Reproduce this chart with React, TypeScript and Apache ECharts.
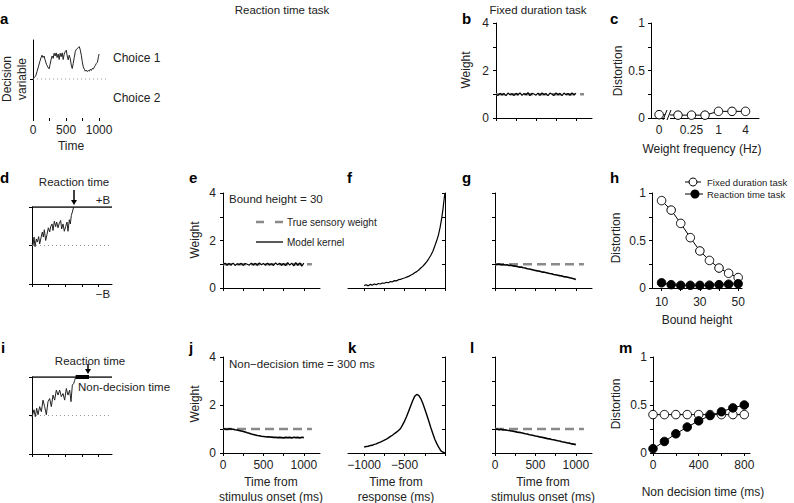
import React, { useEffect, useRef } from 'react';
import * as echarts from 'echarts';

const FONT = '"Liberation Sans", Arial, Helvetica, sans-serif';

// ---- panel a: example decision variable trace
const aTime = [0,20,41,61,81,102,122,137,152,168,183,203,223,244,259,274,289,305,320,335,350,365,381,396,411,426,442,457,472,487,503,518,533,548,563,579,594,609,624,640,655,670,685,701,716,731,746,761,777,792,807,822,838,853,868,883,898,914,929,944,959,975,990,1000];
const aValue = [0,0.04,0.08,0.19,0.31,0.44,0.55,0.61,0.55,0.59,0.49,0.38,0.31,0.26,0.38,0.50,0.59,0.53,0.66,0.59,0.67,0.55,0.64,0.50,0.66,0.57,0.67,0.50,0.64,0.70,0.74,0.59,0.49,0.61,0.53,0.36,0.27,0.40,0.55,0.70,0.76,0.78,0.80,0.83,0.74,0.61,0.44,0.31,0.25,0.20,0.23,0.19,0.22,0.20,0.25,0.22,0.27,0.26,0.31,0.35,0.40,0.43,0.57,0.64];

// ---- panel d: trace up to bound
const dTime = [0,15,30,45,65,80,100,115,135,155,170,185,205,225,245,265,280,300,315,335,355,370,390,410,430,445,465,485,505,525,540,560,575,590,605,625];
const dValue = [0.05,0.00,0.22,-0.03,0.17,0.09,0.23,0.04,0.20,0.35,0.22,0.41,0.13,0.29,0.46,0.35,0.49,0.56,0.39,0.63,0.49,0.61,0.46,0.58,0.65,0.43,0.56,0.37,0.49,0.61,0.37,0.67,0.56,0.78,0.87,1.00];

// ---- panel i: trace up to bound + non-decision time
const iTime = [0,30,50,70,90,115,140,165,190,215,240,265,290,315,340,365,390,415,440,465,490,515,540,565,585,605,625,640,655];
const iValue = [-0.04,0.15,-0.03,0.19,0.02,0.23,0.10,0.40,0.23,0.02,0.36,0.44,0.23,0.53,0.40,0.66,0.53,0.66,0.49,0.57,0.40,0.70,0.53,0.66,0.36,0.79,0.83,0.91,1.00];
const iNonDecision = [655, 855];

// ---- kernels (time from stimulus onset)
const kernelTime = [0,25,50,75,100,125,150,175,200,225,250,275,300,325,350,375,400,425,450,475,500,525,550,575,600,625,650,675,700,725,750,775,800,825,850,875,900,925,950,975,1000];
const bWeight = [1.00,0.95,1.04,0.97,1.03,0.94,1.05,0.98,1.02,0.95,1.04,0.97,1.06,0.95,1.03,0.98,1.07,0.94,1.04,1.01,0.96,1.05,0.95,1.06,0.98,1.03,0.94,1.05,1.00,0.95,1.06,0.97,1.04,0.94,1.05,0.98,1.03,0.95,1.06,0.97,1.04];
const eWeight = [0.99,1.04,0.96,1.03,0.97,1.05,0.95,1.02,0.98,1.04,0.95,1.03,1.00,0.96,1.05,0.97,1.04,0.95,1.06,0.98,1.03,0.96,1.05,0.97,1.02,0.95,1.06,0.98,1.04,0.96,1.03,0.94,1.07,0.96,1.05,0.93,1.07,0.95,1.06,0.92,1.05];
const gWeight = [1.00,0.99,1.01,0.98,0.99,0.97,0.98,0.95,0.96,0.93,0.92,0.91,0.88,0.88,0.85,0.84,0.81,0.80,0.78,0.76,0.74,0.72,0.71,0.68,0.67,0.65,0.63,0.61,0.60,0.57,0.56,0.54,0.52,0.51,0.48,0.47,0.45,0.43,0.41,0.39,0.36];
const jWeight = [1.02,1.00,0.98,1.01,1.00,0.99,0.97,0.96,0.94,0.92,0.90,0.87,0.84,0.82,0.79,0.77,0.75,0.73,0.72,0.70,0.69,0.68,0.67,0.67,0.66,0.65,0.65,0.64,0.65,0.64,0.63,0.65,0.64,0.65,0.63,0.66,0.64,0.65,0.63,0.66,0.64];
const lWeight = [0.98,1.00,0.97,0.99,0.96,0.97,0.95,0.94,0.92,0.91,0.89,0.87,0.86,0.84,0.82,0.80,0.79,0.76,0.75,0.73,0.71,0.70,0.67,0.66,0.64,0.62,0.60,0.59,0.56,0.55,0.53,0.51,0.50,0.47,0.46,0.44,0.42,0.41,0.38,0.37,0.35];
const trueWeightSpan = [0, 1100];
const trueWeight = 1;

// ---- kernels (time from response)
const fTime = [-1000,-975,-950,-925,-900,-875,-850,-825,-800,-775,-750,-725,-700,-675,-650,-625,-600,-575,-550,-525,-500,-475,-450,-425,-400,-375,-350,-325,-300,-275,-250,-225,-200,-175,-150,-125,-100,-80,-60,-40,-25,-15,-5,0];
const fWeight = [0.10,0.14,0.09,0.15,0.12,0.17,0.14,0.19,0.17,0.21,0.20,0.24,0.22,0.27,0.26,0.31,0.30,0.35,0.36,0.40,0.42,0.46,0.49,0.54,0.58,0.64,0.69,0.76,0.84,0.91,1.01,1.11,1.24,1.38,1.55,1.78,2.02,2.25,2.56,2.95,3.32,3.62,3.90,4.00];
const kTime = [-1000,-975,-950,-925,-900,-875,-850,-825,-800,-775,-750,-725,-700,-675,-650,-625,-600,-575,-550,-525,-500,-475,-450,-425,-400,-375,-350,-325,-300,-275,-250,-225,-200,-175,-150,-125,-100,-75,-50,-25,0];
const kWeight = [0.25,0.27,0.28,0.31,0.32,0.36,0.38,0.42,0.45,0.49,0.54,0.58,0.63,0.69,0.74,0.81,0.87,0.94,1.02,1.17,1.33,1.52,1.74,1.96,2.18,2.36,2.44,2.40,2.27,2.07,1.83,1.58,1.32,1.05,0.80,0.56,0.38,0.22,0.09,0.03,0.00];

// ---- panel c: distortion vs weight frequency
const cFrequency = [0, 0.125, 0.25, 0.5, 1, 2, 4];
const cDistortion = [0.035, 0.03, 0.03, 0.03, 0.07, 0.07, 0.07];
const cTickFreq = [0, 0.25, 1, 4];
const cTickLabels = ['0', '0.25', '1', '4'];

// ---- panel h: distortion vs bound height
const hBound = [10, 15, 20, 25, 30, 35, 40, 45, 50];
const hFixed = [0.92, 0.82, 0.68, 0.53, 0.39, 0.29, 0.21, 0.155, 0.11];
const hReaction = [0.055, 0.035, 0.028, 0.028, 0.028, 0.03, 0.035, 0.04, 0.045];

// ---- panel m: distortion vs non decision time
const mNonDecision = [0, 100, 200, 300, 400, 500, 600, 700, 800];
const mFixed = [0.4, 0.4, 0.4, 0.4, 0.4, 0.4, 0.4, 0.4, 0.4];
const mReaction = [0.045, 0.12, 0.2, 0.27, 0.335, 0.39, 0.43, 0.47, 0.5];

// tick positions
const weightTicks = [0, 1, 2, 3, 4];
const weightLabels = [0, 2, 4];
const distTicks = [0, 0.25, 0.5, 0.75, 1];
const distLabels = [0, 0.5, 1];
const onsetTicks = [0, 250, 500, 750, 1000];
const onsetLabels = [0, 500, 1000];
const respTicks = [-1000, -750, -500, -250, 0];
const respLabels = [-1000, -500];
const boundTicks = [10, 20, 30, 40, 50];
const boundLabels = [10, 30, 50];
const ndTicks = [0, 200, 400, 600, 800];
const ndLabels = [0, 400, 800];

const cPos = (f: number) => (f === 0 ? -4.4 : Math.log2(f));
const pairs = (xs: number[], ys: number[]) => xs.map((x, i) => [x, ys[i]]);

const GRIDS = [
  { left: 33, top: 40, width: 76, height: 78 }, // a
  { left: 496, top: 23, width: 96, height: 95 }, // b
  { left: 651, top: 23, width: 108, height: 95 }, // c
  { left: 32, top: 207, width: 80, height: 77 }, // d
  { left: 223, top: 193, width: 97, height: 95 }, // e
  { left: 348, top: 193, width: 97, height: 95 }, // f
  { left: 495, top: 193, width: 97, height: 95 }, // g
  { left: 652, top: 193, width: 90, height: 95 }, // h
  { left: 32, top: 377, width: 80, height: 77 }, // i
  { left: 223, top: 357, width: 97, height: 96 }, // j
  { left: 348, top: 357, width: 97, height: 96 }, // k
  { left: 495, top: 357, width: 97, height: 96 }, // l
  { left: 653, top: 357, width: 97, height: 96 }, // m
];

function axis(gi: number, min: number, max: number, ticks: number[] | null, labels: number[] | null, extra: any = {}) {
  const { lineShow = true, inside = false, fmt, margin = 6, position } = extra;
  const a: any = {
    type: 'value',
    gridIndex: gi,
    min,
    max,
    axisLine: { show: lineShow, onZero: false, lineStyle: { color: '#000', width: 1 } },
    axisTick: ticks
      ? { show: true, inside, length: 3, customValues: ticks, lineStyle: { color: '#000', width: 1 } }
      : { show: false },
    axisLabel: labels
      ? { show: true, customValues: labels, color: '#222', fontSize: 12, fontFamily: FONT, margin, formatter: fmt || ((v: number) => String(v)) }
      : { show: false },
    splitLine: { show: false },
  };
  if (position) a.position = position;
  return a;
}

function line(gi: number, data: any[], color = '#000', width = 1.2, type: any = 'solid', z = 3) {
  return {
    type: 'line',
    xAxisIndex: gi,
    yAxisIndex: gi,
    data,
    showSymbol: false,
    symbol: 'none',
    silent: true,
    z,
    lineStyle: { color, width, type },
  };
}

function dots(gi: number, data: any[], filled: boolean, z = 4) {
  return {
    type: 'line',
    xAxisIndex: gi,
    yAxisIndex: gi,
    data,
    symbol: 'circle',
    symbolSize: 8.5,
    showSymbol: true,
    silent: true,
    z,
    lineStyle: { color: '#000', width: 1 },
    itemStyle: { color: filled ? '#000' : '#fff', borderColor: '#000', borderWidth: 1 },
  };
}

const DASH = [9, 5];
const GRAY = '#8a8a8a';
const trueLine = (gi: number) => line(gi, [[trueWeightSpan[0], trueWeight], [trueWeightSpan[1], trueWeight]], GRAY, 2.5, DASH, 2);
const dotted = (gi: number, xmax: number) => line(gi, [[0, 0], [xmax, 0]], '#999', 1, [1, 3], 1);

function text(x: number, y: number, t: string, o: any = {}) {
  return {
    type: 'text',
    x,
    y,
    rotation: o.rot || 0,
    silent: true,
    z: 10,
    style: {
      text: t,
      fill: o.fill || '#222',
      fontSize: o.size || 12,
      fontFamily: FONT,
      fontWeight: o.bold ? 'bold' : 'normal',
      align: o.align || 'center',
      verticalAlign: 'middle',
      lineHeight: o.lh || 14,
    },
  };
}
const letter = (x: number, baseline: number, t: string) => text(x, baseline - 5, t, { size: 15, bold: true, align: 'left', fill: '#000' });
const seg = (x1: number, y1: number, x2: number, y2: number, stroke = '#000', lineWidth = 1, lineDash: any = null) => ({
  type: 'line',
  silent: true,
  z: 10,
  shape: { x1, y1, x2, y2 },
  style: { stroke, lineWidth, lineDash },
});
const arrow = (x: number, y1: number, y2: number) => [
  seg(x, y1, x, y2 - 4, '#000', 1.5),
  { type: 'polygon', silent: true, z: 10, shape: { points: [[x - 3, y2 - 5], [x + 3, y2 - 5], [x, y2]] }, style: { fill: '#000' } },
];

function buildOption() {
  const xAxes = [
    axis(0, 0, 1150, onsetTicks, onsetLabels, { lineShow: false }),
    axis(1, 0, 1200, onsetTicks, null),
    axis(2, -5, 3, null, cTickFreq.map(cPos), {
      fmt: (v: number) => {
        const idx = cTickFreq.map(cPos).findIndex((p) => Math.abs(p - v) < 1e-6);
        return idx >= 0 ? cTickLabels[idx] : '';
      },
    }),
    axis(3, 0, 1200, onsetTicks, null),
    axis(4, 0, 1200, onsetTicks, null),
    axis(5, -1200, 0, respTicks, null),
    axis(6, 0, 1200, onsetTicks, null),
    axis(7, 5, 52, boundTicks, boundLabels, { margin: 8 }),
    axis(8, 0, 1200, onsetTicks, null),
    axis(9, 0, 1200, onsetTicks, onsetLabels),
    axis(10, -1200, 0, respTicks, respLabels, { fmt: (v: number) => String(v).replace('-', '\u2212') }),
    axis(11, 0, 1200, onsetTicks, onsetLabels),
    axis(12, 0, 850, ndTicks, ndLabels),
  ];
  const yAxes = [
    axis(0, -1, 1, [0], null),
    axis(1, 0, 4, weightTicks, weightLabels, { margin: 7 }),
    axis(2, 0, 1, distTicks, distLabels, { margin: 6 }),
    axis(3, -1, 1, [-1, 0, 1], null),
    axis(4, 0, 4, weightTicks, weightLabels, { margin: 7 }),
    axis(5, 0, 4, weightTicks, null, { position: 'right', inside: true }),
    axis(6, 0, 4, weightTicks, null),
    axis(7, 0, 1, distTicks, distLabels, { margin: 6 }),
    axis(8, -1, 1, [-1, 0, 1], null),
    axis(9, 0, 4, weightTicks, weightLabels, { margin: 7 }),
    axis(10, 0, 4, weightTicks, null, { position: 'right', inside: true }),
    axis(11, 0, 4, weightTicks, null),
    axis(12, 0, 1, distTicks, distLabels, { margin: 6 }),
  ];

  const series: any[] = [
    // a
    dotted(0, 1150),
    line(0, pairs(aTime, aValue), '#222', 1),
    // b
    trueLine(1),
    line(1, pairs(kernelTime, bWeight)),
    // c
    dots(2, cFrequency.map((f, i) => [cPos(f), cDistortion[i]]), false),
    // d
    dotted(3, 1200),
    line(3, [[0, 1], [1200, 1]], '#000', 1.5),
    line(3, pairs(dTime, dValue), '#222', 1),
    // e
    trueLine(4),
    line(4, pairs(kernelTime, eWeight)),
    // f
    line(5, pairs(fTime, fWeight)),
    // g
    trueLine(6),
    line(6, pairs(kernelTime, gWeight), '#000', 1.6),
    // h
    dots(7, pairs(hBound, hFixed), false),
    dots(7, pairs(hBound, hReaction), true, 5),
    // i
    dotted(8, 1200),
    line(8, [[0, 1], [1200, 1]], '#000', 1.5),
    line(8, pairs(iTime, iValue), '#222', 1),
    line(8, [[iNonDecision[0], 1], [iNonDecision[1], 1]], '#000', 4, 'solid', 5),
    // j
    trueLine(9),
    line(9, pairs(kernelTime, jWeight), '#000', 1.6),
    // k
    line(10, pairs(kTime, kWeight), '#000', 1.4),
    // l
    trueLine(11),
    line(11, pairs(kernelTime, lWeight), '#000', 1.6),
    // m
    dots(12, pairs(mNonDecision, mFixed), false),
    dots(12, pairs(mNonDecision, mReaction), true, 5),
  ];

  const graphic: any[] = [
    text(282, 10, 'Reaction time task', { size: 11.5 }),
    text(538, 10, 'Fixed duration task', { size: 11.5 }),
    letter(0, 23, 'a'), letter(462, 23, 'b'), letter(610, 23, 'c'),
    letter(0, 182, 'd'), letter(189, 182, 'e'), letter(347, 182, 'f'), letter(462, 182, 'g'), letter(610, 182, 'h'),
    letter(1, 352, 'i'), letter(189, 352, 'j'), letter(348, 352, 'k'), letter(470, 352, 'l'), letter(619, 352, 'm'),
    // a
    text(14, 79, 'Decision\nvariable', { rot: Math.PI / 2, lh: 15 }),
    text(113, 58, 'Choice 1', { align: 'left' }),
    text(113, 98, 'Choice 2', { align: 'left' }),
    text(71, 146, 'Time'),
    // b, c
    text(466, 70, 'Weight', { rot: Math.PI / 2 }),
    text(618, 71, 'Distortion', { rot: Math.PI / 2 }),
    text(702, 149, 'Weight frequency (Hz)'),
    { type: 'rect', silent: true, z: 9, shape: { x: 665, y: 110, width: 5, height: 10 }, style: { fill: '#fff' } },
    seg(663, 120, 667, 110), seg(667, 120, 671, 110),
    // d
    text(74, 182, 'Reaction time', { size: 11.5 }),
    ...arrow(74, 190, 205),
    text(103, 200, '+B', { size: 11.5 }),
    text(103, 294, '\u2212B', { size: 11.5 }),
    // e
    text(195, 240, 'Weight', { rot: Math.PI / 2 }),
    text(229, 199, 'Bound height = 30', { align: 'left', size: 11.5 }),
    seg(256, 222, 264, 222, GRAY, 2.5), seg(275, 222, 283, 222, GRAY, 2.5),
    text(287, 222, 'True sensory weight', { align: 'left', size: 10 }),
    seg(256, 242, 283, 242, '#000', 1.3),
    text(287, 242, 'Model kernel', { align: 'left', size: 10 }),
    // h
    text(616, 238, 'Distortion', { rot: Math.PI / 2 }),
    text(697, 320, 'Bound height'),
    seg(685, 182, 701, 182, '#000', 1),
    { type: 'circle', silent: true, z: 10, shape: { cx: 693, cy: 182, r: 4 }, style: { fill: '#fff', stroke: '#000', lineWidth: 1 } },
    text(707, 182, 'Fixed duration task', { align: 'left', size: 9.5 }),
    seg(685, 194, 703, 194, '#000', 1),
    { type: 'circle', silent: true, z: 10, shape: { cx: 695, cy: 194, r: 4.5 }, style: { fill: '#000' } },
    text(707, 194, 'Reaction time task', { align: 'left', size: 9.5 }),
    // i
    text(90, 361, 'Reaction time', { size: 11.5 }),
    ...arrow(88, 364, 374),
    text(78, 387, 'Non-decision time', { align: 'left', size: 11.5 }),
    // j
    text(195, 404, 'Weight', { rot: Math.PI / 2 }),
    text(229, 364, 'Non\u2212decision time = 300 ms', { align: 'left', size: 11.5 }),
    text(271, 482, 'Time from'),
    text(271, 497, 'stimulus onset (ms)'),
    // k
    text(396, 482, 'Time from'),
    text(396, 497, 'response (ms)'),
    // l
    text(543, 482, 'Time from'),
    text(543, 497, 'stimulus onset (ms)'),
    // m
    text(616, 404, 'Distortion', { rot: Math.PI / 2 }),
    text(703, 492, 'Non decision time (ms)'),
  ];

  return {
    animation: false,
    backgroundColor: '#fff',
    textStyle: { fontFamily: FONT },
    grid: GRIDS.map((g) => ({ ...g, show: false, containLabel: false, outerBoundsMode: 'none' })),
    xAxis: xAxes,
    yAxis: yAxes,
    series,
    graphic,
  };
}

export default function App() {
  const ref = useRef<HTMLDivElement>(null);
  useEffect(() => {
    document.body.style.margin = '0';
    const chart = echarts.init(ref.current!, null, { renderer: 'svg' });
    chart.setOption(buildOption() as any);
    return () => chart.dispose();
  }, []);
  return <div ref={ref} style={{ width: 794, height: 503, background: '#fff' }} />;
}
